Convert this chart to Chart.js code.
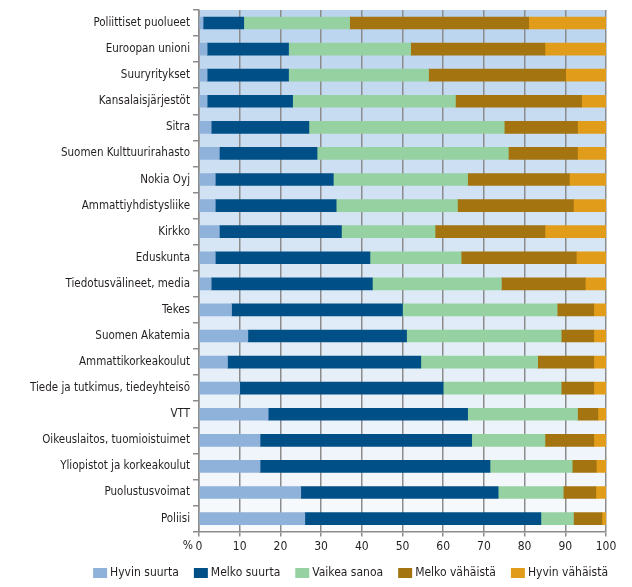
<!DOCTYPE html>
<html>
<head>
<meta charset="utf-8">
<script src="https://cdn.jsdelivr.net/npm/chart.js@4"></script>
<style>
  html, body { margin: 0; padding: 0; background: #fff; }
  #wrap { width: 632px; height: 587px; }
</style>
</head>
<body>
<div id="wrap"><canvas id="chart"></canvas></div>
<script>
var categories = ['Poliittiset puolueet', 'Euroopan unioni', 'Suuryritykset', 'Kansalaisjärjestöt', 'Sitra',
  'Suomen Kulttuurirahasto', 'Nokia Oyj', 'Ammattiyhdistysliike', 'Kirkko', 'Eduskunta',
  'Tiedotusvälineet, media', 'Tekes', 'Suomen Akatemia', 'Ammattikorkeakoulut', 'Tiede ja tutkimus, tiedeyhteisö',
  'VTT', 'Oikeuslaitos, tuomioistuimet', 'Yliopistot ja korkeakoulut', 'Puolustusvoimat', 'Poliisi'];

var hyvinSuurta    = [1, 2, 2, 2, 3, 5, 4, 4, 5, 4, 3, 8, 12, 7, 10, 17, 15, 15, 25, 26];
var melkoSuurta    = [10, 20, 20, 21, 24, 24, 29, 29.7, 30, 38, 39.6, 42, 39, 47.5, 50, 49, 52, 56.5, 48.5, 58];
var vaikeaSanoa    = [26, 30, 34.4, 40, 48, 47, 33, 29.8, 23, 22.4, 31.7, 38, 38, 28.7, 29, 27, 18, 20.2, 16, 8];
var melkoVahaista  = [44, 33, 33.7, 31, 18, 17, 25, 28.5, 27, 28.3, 20.6, 9, 8, 13.8, 8, 5, 12, 5.9, 8, 7];
var hyvinVahaista  = [19, 15, 9.9, 6, 7, 7, 9, 8, 15, 7.3, 5.1, 3, 3, 3, 3, 2, 3, 2.4, 2.5, 1];

var seriesNames = ['Hyvin suurta', 'Melko suurta', 'Vaikea sanoa', 'Melko vähäistä', 'Hyvin vähäistä'];
var seriesColors = ['#8fb2da', '#004f86', '#96d1a2', '#a3740f', '#e19d19'];
var xTicks = [0, 10, 20, 30, 40, 50, 60, 70, 80, 90, 100];

var font = '"Liberation Sans Narrow", "DejaVu Sans Condensed", "Liberation Sans", sans-serif';
var textColor = '#231f20';
var gray = '#8c8c8c';

// gradient behind the bars, "%" label and the legend row
var extras = {
  id: 'extras',
  beforeDraw: function (chart) {
    var a = chart.chartArea, ctx = chart.ctx;
    var g = ctx.createLinearGradient(0, a.top, 0, a.bottom);
    g.addColorStop(0, '#bad4ee');
    g.addColorStop(1, '#f9fbfd');
    ctx.save();
    ctx.fillStyle = g;
    ctx.fillRect(a.left, a.top, a.right - a.left, a.bottom - a.top);
    ctx.restore();
  },
  afterDraw: function (chart) {
    var a = chart.chartArea, ctx = chart.ctx;
    ctx.save();
    ctx.font = '12px ' + font;
    ctx.fillStyle = textColor;
    ctx.textBaseline = 'middle';
    ctx.textAlign = 'right';
    ctx.fillText('%', a.left - 6, a.bottom + 14);

    // legend, right-aligned a bit past the plot
    ctx.textAlign = 'left';
    var boxW = 14, boxH = 10, gapText = 3, gapItem = 15;
    var widths = chart.data.datasets.map(function (d) {
      return boxW + gapText + ctx.measureText(d.label).width;
    });
    var total = widths.reduce(function (s, w) { return s + w; }, 0) + gapItem * (widths.length - 1);
    var x = a.right + 2 - total;
    var y = chart.height - 14;
    chart.data.datasets.forEach(function (d, i) {
      ctx.fillStyle = d.backgroundColor;
      ctx.fillRect(x, y - boxH / 2, boxW, boxH);
      ctx.fillStyle = textColor;
      ctx.fillText(d.label, x + boxW + gapText, y);
      x += widths[i] + gapItem;
    });
    ctx.restore();
  }
};

var data = [hyvinSuurta, melkoSuurta, vaikeaSanoa, melkoVahaista, hyvinVahaista];

new Chart(document.getElementById('chart'), {
  type: 'bar',
  data: {
    labels: categories,
    datasets: seriesNames.map(function (name, i) {
      return {
        label: name,
        data: data[i],
        backgroundColor: seriesColors[i],
        barThickness: 12,
        categoryPercentage: 1
      };
    })
  },
  options: {
    indexAxis: 'y',
    responsive: true,
    maintainAspectRatio: false,
    animation: false,
    layout: { padding: { top: 10, right: 26, left: 0, bottom: 30 } },
    plugins: {
      tooltip: { enabled: false },
      legend: { display: false }
    },
    scales: {
      x: {
        stacked: true,
        min: 0,
        max: 100,
        afterBuildTicks: function (scale) {
          scale.ticks = xTicks.map(function (v) { return { value: v }; });
        },
        grid: { color: gray, lineWidth: 1.5, tickLength: 5, drawTicks: true },
        border: { color: gray, width: 1.5 },
        ticks: { color: textColor, padding: 3, maxRotation: 0, font: { family: font, size: 12 } }
      },
      y: {
        stacked: true,
        afterFit: function (scale) { scale.width = 199; },
        grid: { drawOnChartArea: false, color: gray, tickLength: 6, lineWidth: 1.5, offset: true },
        border: { color: gray, width: 1.5 },
        ticks: { color: textColor, padding: 3, autoSkip: false, font: { family: font, size: 11.5 } }
      }
    }
  },
  plugins: [extras]
});
</script>
</body>
</html>
